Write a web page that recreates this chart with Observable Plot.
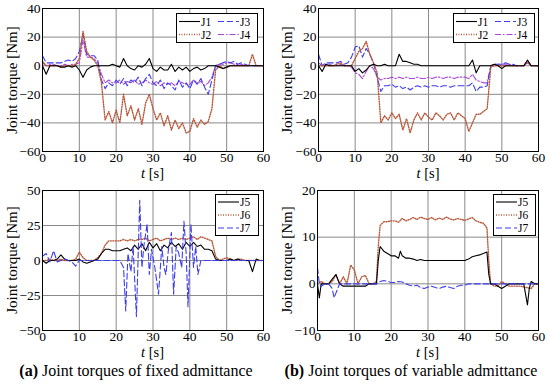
<!DOCTYPE html>
<html><head><meta charset="utf-8">
<script src="https://cdn.jsdelivr.net/npm/d3@7"></script>
<script src="https://cdn.jsdelivr.net/npm/@observablehq/plot@0.6"></script>
<style>
body{margin:0;background:#fff;}
#wrap{position:relative;width:550px;height:385px;font-family:'Liberation Serif','Times New Roman','DejaVu Serif',serif;color:#000;overflow:hidden;}
.p{position:absolute;}
.lbl{position:absolute;font-size:14.5px;line-height:1;white-space:nowrap;transform:translate(-50%,-50%);}
.ylbl{position:absolute;font-size:15px;line-height:1;white-space:nowrap;transform:translate(-50%,-50%) rotate(-90deg);}
.cap{position:absolute;font-size:16px;line-height:1;white-space:nowrap;transform:translate(-50%,-50%);}
.leg{position:absolute;border:1px solid #000;background:#fff;box-sizing:border-box;}
</style></head>
<body><div id="wrap"></div>
<script>
// ---------- data ----------
const xTicks = [0, 10, 20, 30, 40, 50, 60];
const yTicksTop = [-60, -40, -20, 0, 20, 40];
const yTicksBL = [-50, -25, 0, 25, 50];
const yTicksBR = [-10, 0, 10, 20];
const seconds = [0,1,2,3,4,5,6,7,8,9,10,11,12,13,14,15,16,17,18,19,20,21,22,23,24,25,26,27,28,29,30,31,32,33,34,35,36,37,38,39,40,41,42,43,44,45,46,47,48,49,50,51,52,53,54,55,56,57,58,59,60];

// (a) fixed admittance, J1-J4 (one value per second)
const J1_fixed = [0,-6,0,0,0,-1,-1,0,-1,0, -3,-8,-3,-1,0,0,0,0,0,1, 0,-1,5,0,-2,-3,0,-1,1,5, -2,-4,-1,-3,-3,1,-4,-1,-3,-1, -4,-2,-1,-3,-2,0,0,0,-1,-2, -1,0,0,0,0,0,0,0,0,0, 0];
const J2_fixed = [3,0,0,0,0,-1,0,0,0,1, 5,24,10,6,4,0,-12,-38,-32,-40, -31,-40,-20,-35,-28,-38,-30,-41,-26,-20, -30,-38,-33,-42,-35,-45,-38,-44,-40,-47, -46,-37,-43,-38,-41,-39,-30,-3,0,-2, -1,0,0,0,0,0,0,8,0,0, 0];
const J3_fixed = [7,2,2,2,2,2,3,4,3,5, 10,22,8,7,7,4,-10,-16,-12,-14, -10,-13,-9,-14,-10,-12,-8,-14,-9,-6, -12,-14,-10,-16,-12,-14,-17,-10,-15,-12, -16,-10,-13,-9,-15,-20,-10,0,1,2, 3,2,3,1,2,1,0,0,0,0, 0];
const J4_fixed = [2,0,1,1,0,0,1,0,1,1, 2,18,6,6,5,2,-6,-12,-10,-12, -12,-10,-13,-11,-12,-10,-13,-12,-10,-12, -13,-11,-14,-12,-13,-12,-14,-11,-12,-13, -13,-10,-12,-11,-14,-12,-8,0,1,1, 2,2,1,1,1,0,0,0,0,0, 0];

// (b) variable admittance, J1-J4
const J1_var = [0,-4,1,0,0,0,0,0,0,0, -4,-2,-5,-3,0,1,0,0,1,0, 0,0,8,3,3,2,1,1,0,0, 0,0,0,0,0,0,0,0,0,0, 0,0,4,-5,0,0,0,0,1,0, -2,0,0,0,0,0,0,4,0,0, 0];
const J2_var = [0,0,0,0,0,1,2,0,0,0, 5,10,12,17,8,2,-5,-40,-35,-38, -33,-37,-34,-45,-37,-47,-38,-33,-38,-33, -36,-38,-33,-35,-38,-34,-33,-38,-33,-35, -37,-46,-40,-34,-34,-32,-30,-1,0,0, 0,0,0,0,0,0,0,3,0,0, 0];
const J3_var = [8,0,2,2,2,2,3,1,2,6, 13,14,6,12,8,2,-8,-18,-14,-14, -13,-15,-14,-16,-15,-17,-15,-14,-15,-14, -15,-14,-14,-15,-14,-14,-15,-14,-14,-14, -14,-14,-12,-18,-15,-15,-14,0,1,1, 1,2,1,1,0,0,0,3,0,0, 0];
const J4_var = [2,0,1,1,0,0,1,0,0,-1, -5,-6,-9,-4,0,-2,-8,-10,-9,-9, -8,-9,-8,-9,-8,-9,-9,-8,-9,-9, -8,-9,-8,-8,-9,-8,-8,-9,-8,-8, -8,-9,-6,-10,-11,-12,-12,0,1,1, 1,1,1,0,0,0,0,2,0,0, 0];

// (a) fixed admittance, J5-J7
const J5_fixed = [0,-2,0,0,1,4,1,0,0,0, 1,-1,-2,-1,0,1,5,8,8,7, 7,7,8,9,7,11,8,12,7,13, 9,12,7,11,9,13,10,12,8,13, 10,13,10,11,8,8,7,1,0,0, 0,1,0,1,0,0,0,-8,1,0, 0];
const J6_fixed = [0,0,1,0,0,1,0,0,0,1, 6,2,0,0,0,2,5,11,14,14, 14,14,15,14,15,14,15,15,16,14, 15,16,14,15,16,15,16,15,16,15, 16,17,15,17,16,15,14,3,0,1, 2,1,0,1,1,0,0,0,0,0, 0];
const J7_fixed_t = [0,1,2,3,4,5,6,7,8,9,10,11,15,21,22,22.6,23.2,24,24.6,25.5,26.4,27,27.5,28.4,29,29.6,30.5,31.5,32.4,33,33.5,34.2,35,35.6,36.3,37,37.8,38.4,39,39.5,40.3,41,41.6,42.2,43,50,55,60];
const J7_fixed_v = [3,5,-1,7,-1,0,1,0,-1,-4,0,0,0,0,-5,-36,5,-8,10,-40,43,-5,10,26,-10,8,-5,-24,10,-5,-10,8,20,-24,10,5,-5,28,5,-33,26,-5,10,-10,0,0,0,0];

// (b) variable admittance, J5-J7
const J5_var_t = [0,0.5,1,2,3,4,5,6,7,10,13,14,15,16,16.5,17,18,19,20,21,22,22.5,23,24,25,26,27,28,29,30,35,40,41,42,43,44,45,46,46.5,47,48,49,50,51,52,56,57,57.5,58,59,60];
const J5_var_v = [0,-3,0,0,0,1,2,0,-0.5,-0.5,-0.5,0,0,0,5,8,7,6.5,6,6,5.5,7,6,5.5,5.5,5.3,5,5.2,5,5,5,5,5.3,5.8,6,6.2,6.5,6.8,2,0,0,-0.5,-1,-0.5,0,0,-4.5,-1,0.5,0,0];
const J6_var_t = [0,1,2,3,4,5,6,7,8,9,10,11,12,13,14,15,16,16.5,17,18,19,20,21,22,23,24,25,26,27,28,29,30,31,32,33,34,35,36,37,38,39,40,41,42,43,44,45,46,46.5,47,48,49,50,51,52,55,58,59,60];
const J6_var_v = [0,0.5,0,0,0.5,2,0,1.5,0,4,3,0,1.5,1.8,0,0,0.5,8,12.5,13.3,13.3,13.5,13.5,13.2,14,13.5,13.8,14.2,13.8,14.3,14,13.8,14.2,13.7,14.1,13.8,14.3,13.9,13.7,14,13.8,13.6,13.9,14.2,13.5,13.2,13,12,5,0,-0.5,-0.5,0.5,0,-0.5,-0.5,-1,0,0];
const J7_var_t = [0,0.5,1,2,3,4,4.5,5,6,16,17,18,19,20,21,22,23,24,25,26,27,28,29,30,31,32,33,34,35,36,37,38,39,40,41,42,50,60];
const J7_var_v = [3.5,0,-0.5,0,0,-1,-3,-2,0,0,0.5,0.7,0.5,0.3,0.3,0.5,0.4,0,-0.3,-0.5,-0.3,-0.8,-1,-0.7,-0.5,-0.8,-1,-0.7,-0.5,-0.8,-1,-0.5,-0.3,-0.3,0,0,0,0];

// ---------- styles ----------
const FONT = "'Liberation Serif','Times New Roman','DejaVu Serif',serif";
const sty = {
  J1: {stroke: "#000000", dash: null, w: 1.1},
  J2: {stroke: "#b8583a", dash: "1,1.5", w: 1.4},
  J3: {stroke: "#3c3cf0", dash: "6,3", w: 1.1},
  J4: {stroke: "#a945d8", dash: "6,2,1.5,2", w: 1.1},
  J5: {stroke: "#000000", dash: null, w: 1.1},
  J6: {stroke: "#b8583a", dash: "1,1.5", w: 1.4},
  J7: {stroke: "#3c3cf0", dash: "6,3", w: 1.1}
};

const perSecond = vals => vals.map((v, i) => ({t: seconds[i], v}));
const pairs = (ts, vs) => ts.map((t, i) => ({t, v: vs[i]}));

const wrap = document.getElementById("wrap");

function panel({left, top, width, height, mL, mR, mT, mB, yDomain, yTicks, series}) {
  const marks = [
    Plot.ruleX(xTicks, {stroke: "#8a8a8a", strokeWidth: 1}),
    Plot.ruleY(yTicks, {stroke: "#8a8a8a", strokeWidth: 1}),
    ...series.map(s => Plot.line(s.data, {x: "t", y: "v", stroke: sty[s.key].stroke, strokeDasharray: sty[s.key].dash, strokeWidth: sty[s.key].w, curve: "linear"})),
    Plot.frame({stroke: "#000", strokeWidth: 1})
  ];
  const svg = Plot.plot({
    width, height,
    marginLeft: mL, marginRight: mR, marginTop: mT, marginBottom: mB,
    style: {fontFamily: FONT, fontSize: "13.5px", background: "transparent", color: "#000"},
    x: {domain: [0, 60], ticks: xTicks, tickSize: 0, tickPadding: 1, label: null},
    y: {domain: yDomain, ticks: yTicks, tickSize: 0, tickPadding: 2, label: null},
    marks
  });
  svg.classList.add("p");
  svg.style.left = left + "px";
  svg.style.top = top + "px";
  wrap.appendChild(svg);
  const xl = document.createElement("div");
  xl.className = "lbl";
  xl.innerHTML = "<i>t</i> [s]";
  xl.style.left = (left + mL + (width - mL - mR) / 2) + "px";
  xl.style.top = (top + height - mB + 22) + "px";
  wrap.appendChild(xl);
  const yl = document.createElement("div");
  yl.className = "ylbl";
  yl.textContent = "Joint torque [Nm]";
  yl.style.left = (left + 12) + "px";
  yl.style.top = (top + mT + (height - mT - mB) / 2) + "px";
  wrap.appendChild(yl);
}

function legend({left, top, width, height, rows}) {
  const div = document.createElement("div");
  div.className = "leg";
  div.style.left = left + "px"; div.style.top = top + "px";
  div.style.width = width + "px"; div.style.height = height + "px";
  const ns = "http://www.w3.org/2000/svg";
  const s = document.createElementNS(ns, "svg");
  s.setAttribute("width", width - 2); s.setAttribute("height", height - 2);
  s.style.display = "block";
  rows.forEach(r => {
    const ln = document.createElementNS(ns, "line");
    ln.setAttribute("x1", r.x); ln.setAttribute("x2", r.x + 21);
    ln.setAttribute("y1", r.y); ln.setAttribute("y2", r.y);
    ln.setAttribute("stroke", sty[r.key].stroke);
    ln.setAttribute("stroke-width", sty[r.key].w);
    if (sty[r.key].dash) ln.setAttribute("stroke-dasharray", sty[r.key].dash);
    s.appendChild(ln);
    const tx = document.createElementNS(ns, "text");
    tx.setAttribute("x", r.x + 22); tx.setAttribute("y", r.y + 4);
    tx.setAttribute("font-family", FONT);
    tx.setAttribute("font-size", "11.5");
    tx.textContent = r.key;
    s.appendChild(tx);
  });
  div.appendChild(s);
  wrap.appendChild(div);
}

// top-left
panel({left: 0, top: 0, width: 275, height: 180, mL: 42, mR: 12, mT: 8, mB: 29, yDomain: [-60, 40], yTicks: yTicksTop,
  series: [{key: "J4", data: perSecond(J4_fixed)}, {key: "J3", data: perSecond(J3_fixed)}, {key: "J2", data: perSecond(J2_fixed)}, {key: "J1", data: perSecond(J1_fixed)}]});
// top-right
panel({left: 275, top: 0, width: 275, height: 180, mL: 43, mR: 12, mT: 8, mB: 29, yDomain: [-60, 40], yTicks: yTicksTop,
  series: [{key: "J4", data: perSecond(J4_var)}, {key: "J3", data: perSecond(J3_var)}, {key: "J2", data: perSecond(J2_var)}, {key: "J1", data: perSecond(J1_var)}]});
// bottom-left
panel({left: 0, top: 182, width: 275, height: 177, mL: 42, mR: 12, mT: 8, mB: 29, yDomain: [-50, 50], yTicks: yTicksBL,
  series: [{key: "J6", data: perSecond(J6_fixed)}, {key: "J5", data: perSecond(J5_fixed)}, {key: "J7", data: pairs(J7_fixed_t, J7_fixed_v)}]});
// bottom-right
panel({left: 275, top: 182, width: 275, height: 177, mL: 42, mR: 12, mT: 8, mB: 29, yDomain: [-10, 20], yTicks: yTicksBR,
  series: [{key: "J6", data: pairs(J6_var_t, J6_var_v)}, {key: "J5", data: pairs(J5_var_t, J5_var_v)}, {key: "J7", data: pairs(J7_var_t, J7_var_v)}]});

legend({left: 176, top: 13, width: 82, height: 30, rows: [{key: "J1", x: 2, y: 7.5}, {key: "J3", x: 41, y: 7.5}, {key: "J2", x: 2, y: 20.5}, {key: "J4", x: 41, y: 20.5}]});
legend({left: 453, top: 13, width: 82, height: 30, rows: [{key: "J1", x: 2, y: 7.5}, {key: "J3", x: 41, y: 7.5}, {key: "J2", x: 2, y: 20.5}, {key: "J4", x: 41, y: 20.5}]});
legend({left: 215, top: 194, width: 44, height: 42, rows: [{key: "J5", x: 2, y: 7}, {key: "J6", x: 2, y: 20}, {key: "J7", x: 2, y: 33}]});
legend({left: 493, top: 194, width: 43, height: 42, rows: [{key: "J5", x: 2, y: 7}, {key: "J6", x: 2, y: 20}, {key: "J7", x: 2, y: 33}]});

const capA = document.createElement("div");
capA.className = "cap"; capA.innerHTML = "<b>(a)</b> Joint torques of fixed admittance";
capA.style.left = "136px"; capA.style.top = "371px"; wrap.appendChild(capA);
const capB = document.createElement("div");
capB.className = "cap"; capB.innerHTML = "<b>(b)</b> Joint torques of variable admittance";
capB.style.left = "411px"; capB.style.top = "371px"; wrap.appendChild(capB);
</script></body></html>
